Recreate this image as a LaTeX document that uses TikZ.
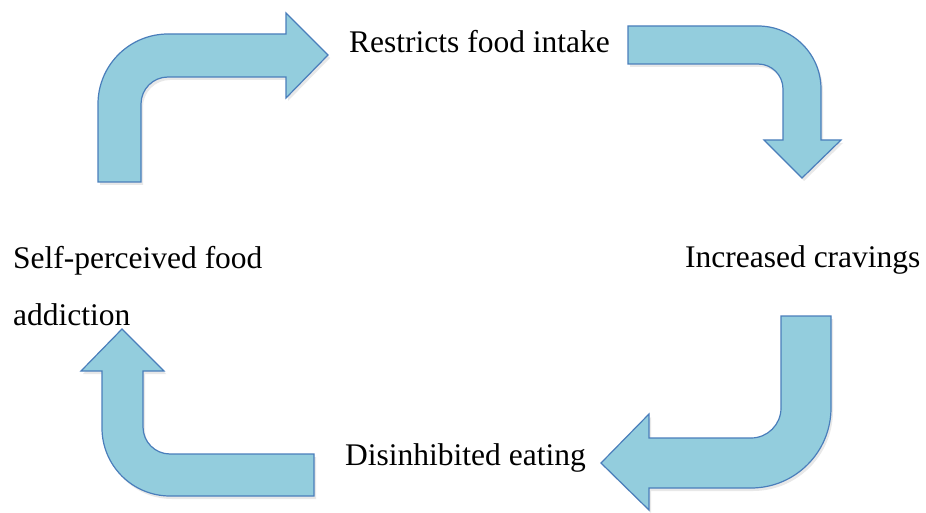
\documentclass[tikz,border=0pt]{standalone}
\usepackage{fontspec}
\setmainfont{Liberation Serif}
\usetikzlibrary{shadows}
\definecolor{arrowfill}{HTML}{93CDDD}
\definecolor{arrowline}{HTML}{4A7EBB}

\begin{document}
\begin{tikzpicture}[
  x=1pt,y=1pt,
  txt/.style={inner sep=0pt,anchor=base west,align=left,
  font=\fontsize{31.5}{57}\selectfont},
  bentarrow/.style={fill=arrowfill,draw=arrowline,line width=1.2pt,
  drop shadow={shadow xshift=2pt,shadow yshift=-3pt,opacity=0.18}}
]
\useasboundingbox (0,0) rectangle (926,512);
% the four steps
\node[txt] (restrict) at (349,459) {Restricts food intake};
\node[txt] (cravings) at (685,244) {Increased cravings};
\node[txt] (eating) at (345,47) {Disinhibited eating};
\node[txt] (addict) at (13,187) {Self-perceived food\\addiction};
% bent arrows between them
\path[bentarrow] (98,330) -- (98,408) arc[start angle=180,end angle=90,radius=70]
  -- (286,478) -- (286,499) -- (328,457) -- (286,414) -- (286,435)
  -- (168,435) arc[start angle=90,end angle=180,radius=27] -- (141,330) -- cycle;
\path[bentarrow] (628,486) -- (758,486) arc[start angle=90,end angle=0,radius=63]
  -- (821,372) -- (841,372) -- (802,334) -- (764,372) -- (783,372)
  -- (783,423) arc[start angle=0,end angle=90,radius=25] -- (628,448) -- cycle;
\path[bentarrow] (781,196) -- (831,196) -- (831,104) arc[start angle=0,end angle=-90,radius=80]
  -- (649,24) -- (649,2) -- (601,49) -- (649,98) -- (649,74)
  -- (751,74) arc[start angle=-90,end angle=0,radius=30] -- cycle;
\path[bentarrow] (314,16) -- (170,16) arc[start angle=-90,end angle=-180,radius=68]
  -- (102,141) -- (81,141) -- (122,183) -- (164,141) -- (143,141)
  -- (143,85) arc[start angle=180,end angle=270,radius=27] -- (314,58) -- cycle;
\end{tikzpicture}
\end{document}
